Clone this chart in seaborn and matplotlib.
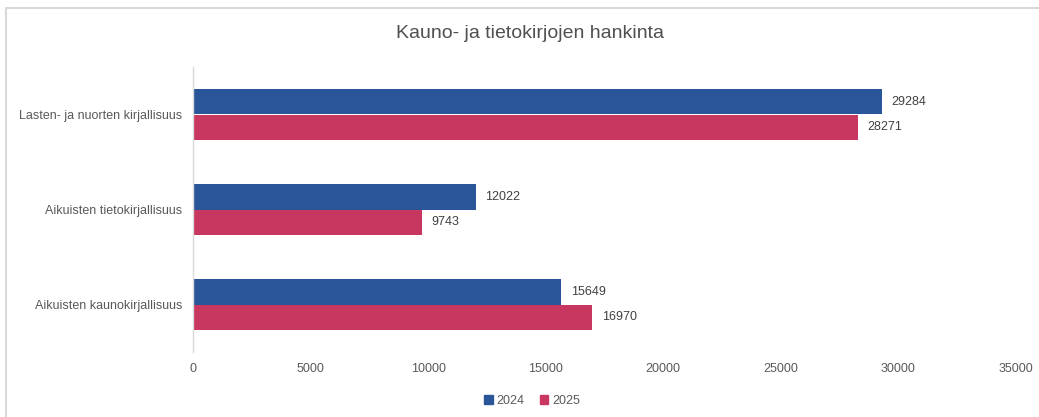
import matplotlib
matplotlib.use('Agg')
import matplotlib.pyplot as plt
from matplotlib.lines import Line2D
import numpy as np
import pandas as pd
import seaborn as sns

categories = ['Lasten- ja nuorten kirjallisuus', 'Aikuisten tietokirjallisuus', 'Aikuisten kaunokirjallisuus']
years = ['2024', '2025']
values_2024 = [29284, 12022, 15649]
values_2025 = [28271, 9743, 16970]
xticks = [0, 5000, 10000, 15000, 20000, 25000, 30000, 35000]
title = 'Kauno- ja tietokirjojen hankinta'

colors = {'2024': '#2A5599', '2025': '#C8375F'}
text_color = '#595959'

sns.set_theme(style='white')
plt.rcParams['font.family'] = ['Liberation Sans', 'DejaVu Sans']

df = pd.DataFrame({
    'category': categories * 2,
    'year': [years[0]] * 3 + [years[1]] * 3,
    'value': values_2024 + values_2025,
})

fig = plt.figure(figsize=(10.39, 4.17), dpi=100)
ax = fig.add_axes([193 / 1039, 1 - 352 / 417, (1016 - 193) / 1039, (352 - 67) / 417])

sns.barplot(data=df, x='value', y='category', hue='year', order=categories,
            hue_order=years, palette=colors, orient='h', width=0.53,
            saturation=1, errorbar=None, ax=ax, legend=False, linewidth=0)

for cont in ax.containers:
    ax.bar_label(cont, fmt='%d', padding=7, fontsize=9, color='#404040')

ax.set_xlim(0, 35000)
ax.set_ylim(2.5, -0.5)
ax.set_xticks(xticks)
ax.set_xticklabels([str(t) for t in xticks], fontsize=9, color=text_color)
ax.tick_params(axis='y', labelsize=9, labelcolor=text_color, length=0, pad=8)
ax.tick_params(axis='x', length=0, pad=8)
ax.set_xlabel('')
ax.set_ylabel('')
for side in ['top', 'right', 'bottom']:
    ax.spines[side].set_visible(False)
ax.spines['left'].set_color('#D9D9D9')
ax.spines['left'].set_linewidth(1)

fig.text(0.51, 1 - 33 / 417, title, ha='center', va='center', fontsize=14, color='#505050')

handles = [plt.Rectangle((0, 0), 1, 1, color=colors[y]) for y in years]
fig.legend(handles, years, loc='center', bbox_to_anchor=(532 / 1039, 1 - 401 / 417),
           ncol=2, frameon=False, fontsize=9, labelcolor=text_color,
           handlelength=0.7, handleheight=0.7, handletextpad=0.3, columnspacing=1.2)

# chart border (only top and left visible in the crop)
fig.add_artist(Line2D([6 / 1039, 1], [1 - 8 / 417, 1 - 8 / 417], color='#D9D9D9', lw=1.5))
fig.add_artist(Line2D([6 / 1039, 6 / 1039], [0, 1 - 8 / 417], color='#D9D9D9', lw=1.5))

fig.savefig('out.png', dpi=100)
